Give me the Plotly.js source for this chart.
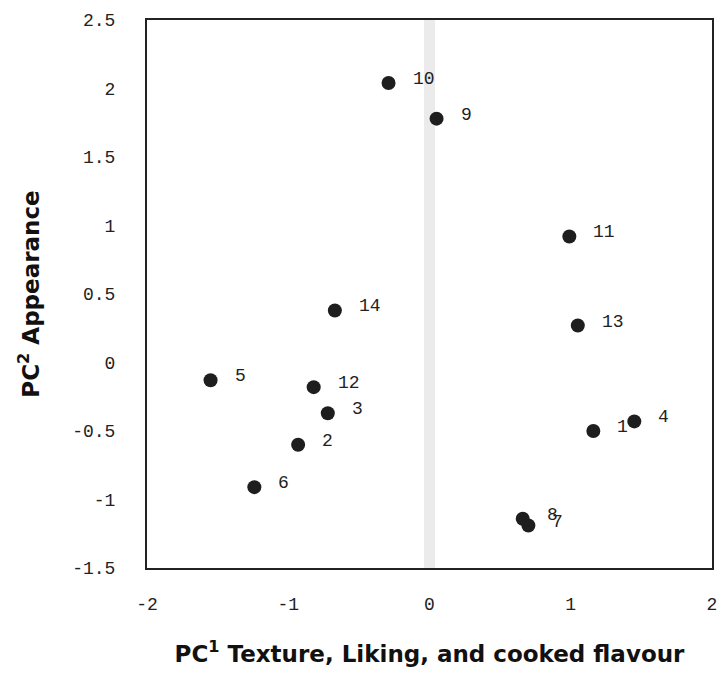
<!DOCTYPE html>
<html>
<head>
<meta charset="utf-8">
<script src="https://cdn.plot.ly/plotly-3.0.1.min.js"></script>
<style>html,body{margin:0;padding:0;background:#fff;}#chart{width:718px;height:697px;}</style>
</head>
<body>
<div id="chart"></div>
<script>
// Sample labels and PCA scores
const sampleLabels = ['1','2','3','4','5','6','7','8','9','10','11','12','13','14'];
const pc1Scores = [1.16, -0.93, -0.72, 1.45, -1.55, -1.24, 0.70, 0.66, 0.05, -0.29, 0.99, -0.82, 1.05, -0.67];
const pc2Scores = [-0.50, -0.60, -0.37, -0.43, -0.13, -0.91, -1.19, -1.14, 1.78, 2.04, 0.92, -0.18, 0.27, 0.38];
const xTickVals = [-2, -1, 0, 1, 2];
const xTickText = ['-2', '-1', '0', '1', '2'];
const yTickVals = [-1.5, -1, -0.5, 0, 0.5, 1, 1.5, 2, 2.5];
const yTickText = ['-1.5', '-1', '-0.5', '0', '0.5', '1', '1.5', '2', '2.5'];

const trace = {
  type: 'scatter',
  mode: 'markers',
  x: pc1Scores,
  y: pc2Scores,
  text: sampleLabels,
  marker: {color: '#1e1e1e', size: 14},
  hoverinfo: 'text+x+y'
};

const labelAnnotations = sampleLabels.map((t, i) => ({
  x: pc1Scores[i], y: pc2Scores[i], xref: 'x', yref: 'y',
  text: t, showarrow: false, xanchor: 'left', yanchor: 'middle',
  xshift: 22, yshift: 4,
  font: {family: 'Liberation Mono, DejaVu Sans Mono, monospace', size: 18, color: '#222'}
}));

const layout = {
  width: 718, height: 697,
  margin: {l: 147, r: 6, t: 20, b: 129},
  paper_bgcolor: '#fff', plot_bgcolor: '#fff',
  showlegend: false,
  xaxis: {
    range: [-2, 2], tickvals: xTickVals, ticktext: xTickText,
    showgrid: false, ticks: '', ticklabelstandoff: 18,
    zeroline: true, zerolinecolor: '#ebebeb', zerolinewidth: 11,
    showline: true, linecolor: '#222', linewidth: 2, mirror: true,
    tickfont: {family: 'Liberation Mono, DejaVu Sans Mono, monospace', size: 18, color: '#222'},
    title: {text: 'PC<sup>1</sup> Texture, Liking, and cooked flavour', standoff: 32,
            font: {family: 'DejaVu Sans, sans-serif', size: 23, color: '#111', weight: 'bold'}}
  },
  yaxis: {
    range: [-1.5, 2.5], tickvals: yTickVals, ticktext: yTickText,
    showgrid: false, ticks: '', ticklabelstandoff: 26,
    zeroline: false,
    showline: true, linecolor: '#222', linewidth: 2, mirror: true,
    tickfont: {family: 'Liberation Mono, DejaVu Sans Mono, monospace', size: 18, color: '#222'},
    title: {text: 'PC<sup>2</sup> Appearance', standoff: 26,
            font: {family: 'DejaVu Sans, sans-serif', size: 23, color: '#111', weight: 'bold'}}
  },
  shapes: [{type: 'line', xref: 'x', yref: 'paper', x0: 0, x1: 0, y0: 0, y1: 1,
            line: {color: '#a0a0a0', width: 1}, layer: 'below'}],
  annotations: labelAnnotations
};

Plotly.newPlot('chart', [trace], layout, {displayModeBar: false, staticPlot: true});
</script>
</body>
</html>
